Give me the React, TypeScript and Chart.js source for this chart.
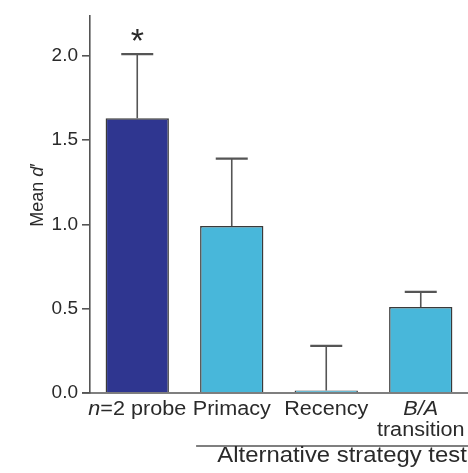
import React, { useEffect, useRef } from 'react';
import { Chart, registerables } from 'chart.js';

Chart.register(...registerables);

// ---- data ----
const categories = ['n=2 probe', 'Primacy', 'Recency', 'B/A transition'];
// label lines; text between *...* is italic
const labelLines = [['*n*=2 probe'], ['Primacy'], ['Recency'], ['*B/A*', 'transition']];
const meanValues = [1.63, 0.99, 0.015, 0.51];
const errorTops = [2.01, 1.39, 0.28, 0.6];
const significance = ['*', '', '', ''];
const yTickValues = [0, 0.5, 1.0, 1.5, 2.0];
const yMax = 2.24;
const yTitleParts = ['Mean ', '*d*′'];
const groupLabel = 'Alternative strategy test';
const groupStartIndex = 1;

// ---- styles ----
const FONT = '"Liberation Sans", Arial, Helvetica, sans-serif';
const barColors = ['#2f3690', '#48b7da', '#48b7da', '#48b7da'];
const AXIS = '#555555';
const TEXT = '#2a2a2a';

type Seg = { t: string; i: boolean };
function parse(s: string): Seg[] {
  const parts = s.split('*');
  const out: Seg[] = [];
  parts.forEach((p, idx) => {
    if (p.length) out.push({ t: p, i: idx % 2 === 1 });
  });
  return out;
}

function drawMixed(
  ctx: CanvasRenderingContext2D,
  text: string,
  cx: number,
  baseline: number,
  size: number,
  sx: number
) {
  const segs = parse(text);
  const fonts = segs.map((s) => `${s.i ? 'italic ' : ''}${size}px ${FONT}`);
  let total = 0;
  const widths = segs.map((s, k) => {
    ctx.font = fonts[k];
    const w = ctx.measureText(s.t).width;
    total += w;
    return w;
  });
  ctx.save();
  ctx.translate(cx, baseline);
  ctx.scale(sx, 1);
  ctx.textAlign = 'left';
  ctx.textBaseline = 'alphabetic';
  let xx = -total / 2;
  segs.forEach((s, k) => {
    ctx.font = fonts[k];
    ctx.fillText(s.t, xx, 0);
    xx += widths[k];
  });
  ctx.restore();
}

const overlay = {
  id: 'overlay',
  afterDatasetsDraw(chart: any) {
    const { ctx, scales } = chart;
    const y = scales.y;
    const meta = chart.getDatasetMeta(0);
    const y0 = y.getPixelForValue(0);
    ctx.save();
    ctx.lineCap = 'butt';
    // error bars
    meta.data.forEach((bar: any, i: number) => {
      const cx = bar.x;
      const top = y.getPixelForValue(meanValues[i]);
      const et = y.getPixelForValue(errorTops[i]);
      ctx.strokeStyle = AXIS;
      ctx.lineWidth = 1.6;
      ctx.beginPath();
      ctx.moveTo(cx, top);
      ctx.lineTo(cx, et);
      ctx.stroke();
      ctx.lineWidth = 2.2;
      ctx.beginPath();
      ctx.moveTo(cx - 16, et);
      ctx.lineTo(cx + 16, et);
      ctx.stroke();
      // significance mark
      if (significance[i]) {
        ctx.font = `34px ${FONT}`;
        ctx.fillStyle = TEXT;
        ctx.textAlign = 'center';
        ctx.textBaseline = 'alphabetic';
        const m = ctx.measureText(significance[i]);
        const h = m.actualBoundingBoxAscent + m.actualBoundingBoxDescent;
        const centerY = et - 19.5;
        ctx.fillText(significance[i], cx, centerY - h / 2 + m.actualBoundingBoxAscent);
      }
    });
    // x axis line
    ctx.strokeStyle = AXIS;
    ctx.lineWidth = 1.6;
    ctx.beginPath();
    ctx.moveTo(chart.chartArea.left - 8, y0);
    ctx.lineTo(chart.width, y0);
    ctx.stroke();

    // category labels
    ctx.fillStyle = TEXT;
    meta.data.forEach((bar: any, i: number) => {
      labelLines[i].forEach((line, li) => {
        drawMixed(ctx, line, bar.x, y0 + 22 + li * 21, 20, 1.08);
      });
    });

    // group line + label
    const gBar = meta.data[groupStartIndex];
    const gx = gBar.x - gBar.width / 2 - 4;
    ctx.beginPath();
    ctx.lineWidth = 1.4;
    ctx.moveTo(gx, y0 + 53);
    ctx.lineTo(chart.width, y0 + 53);
    ctx.stroke();
    drawMixed(ctx, groupLabel, (gx + chart.width) / 2 + 10, y0 + 69, 22, 1.085);

    // y title
    ctx.save();
    ctx.translate(43, 195);
    ctx.rotate(-Math.PI / 2);
    drawMixed(ctx, yTitleParts.join(''), 0, 0, 18, 1);
    ctx.restore();

    ctx.restore();
  },
};

export default function App() {
  const ref = useRef<HTMLCanvasElement>(null);
  useEffect(() => {
    document.body.style.margin = '0';
    const chart = new Chart(ref.current!, {
      type: 'bar',
      data: {
        labels: categories,
        datasets: [
          {
            data: meanValues,
            backgroundColor: barColors,
            borderColor: '#3a3a3a',
            borderWidth: 1.5,
            barPercentage: 0.67,
            categoryPercentage: 1,
          },
        ],
      },
      options: {
        animation: false,
        responsive: true,
        maintainAspectRatio: false,
        layout: { padding: { top: 11, bottom: 80, left: 0, right: -4 } },
        plugins: { legend: { display: false }, tooltip: { enabled: false } },
        scales: {
          x: { display: false },
          y: {
            min: 0,
            max: yMax,
            afterBuildTicks: (scale: any) => {
              scale.ticks = yTickValues.map((v) => ({ value: v }));
            },
            afterFit: (scale: any) => {
              scale.width = 90;
            },
            ticks: {
              font: { family: FONT, size: 19 },
              color: TEXT,
              padding: 4,
              callback: (v: any) => Number(v).toFixed(1),
            },
            grid: {
              drawOnChartArea: false,
              drawTicks: true,
              tickLength: 8,
              color: AXIS,
              lineWidth: 1.6,
            },
            border: { display: true, color: AXIS, width: 1.6 },
          },
        },
      },
      plugins: [overlay],
    });
    return () => chart.destroy();
  }, []);
  return (
    <div style={{ position: 'relative', width: 468, height: 473 }}>
      <canvas ref={ref} />
    </div>
  );
}
